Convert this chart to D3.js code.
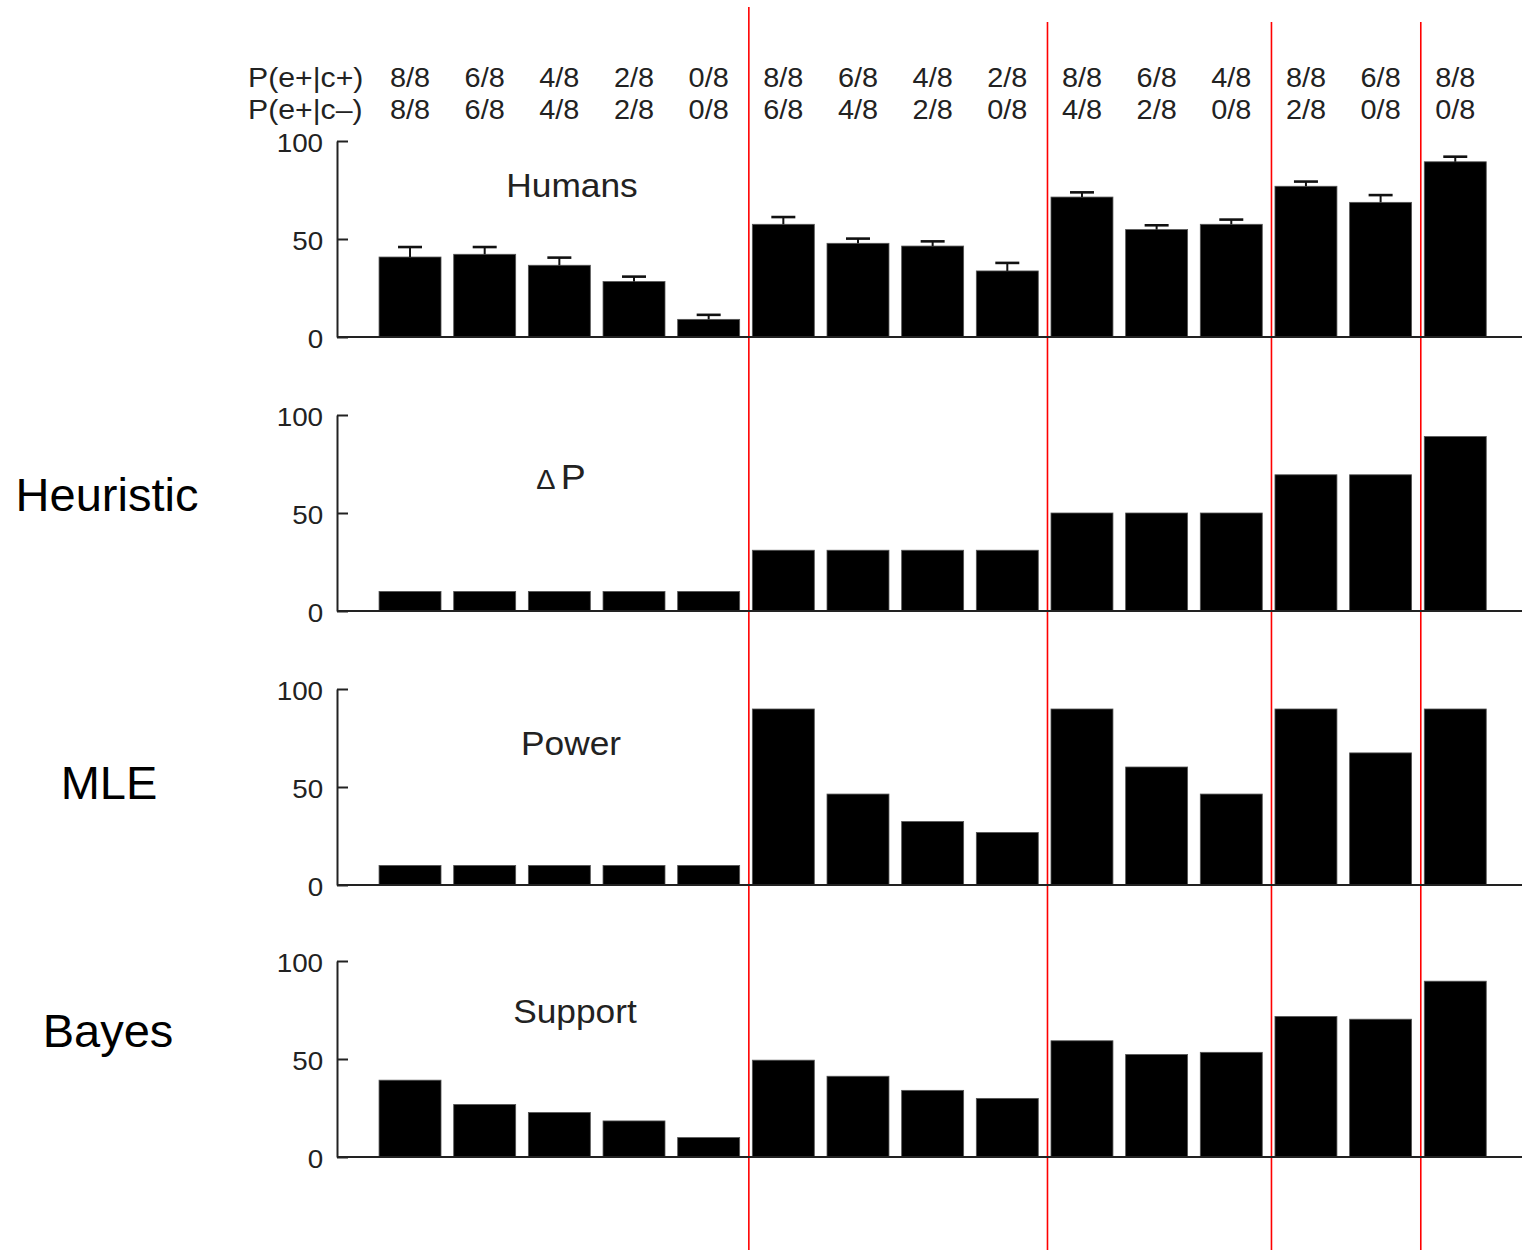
<!DOCTYPE html>
<html>
<head>
<meta charset="utf-8">
<script src="https://cdn.jsdelivr.net/npm/d3@7"></script>
<style>
  html, body { margin: 0; padding: 0; background: #fff; }
  svg { display: block; }
</style>
</head>
<body>
<div id="chart"></div>
<script>
// ---------------- data ----------------
const pEplusCplus  = ["8/8","6/8","4/8","2/8","0/8","8/8","6/8","4/8","2/8","8/8","6/8","4/8","8/8","6/8","8/8"];
const pEplusCminus = ["8/8","6/8","4/8","2/8","0/8","6/8","4/8","2/8","0/8","4/8","2/8","0/8","2/8","0/8","0/8"];
const yTicks = [0, 50, 100];

const humans    = [40.8, 42.2, 36.6, 28.3, 9.0, 57.5, 47.8, 46.4, 33.7, 71.4, 54.8, 57.5, 76.9, 68.7, 89.4];
const humansErr = [5.1, 3.7, 3.9, 2.5, 2.3, 3.7, 2.4, 2.4, 4.1, 2.4, 2.2, 2.4, 2.4, 3.7, 2.6];
const deltaP    = [10, 10, 10, 10, 10, 31, 31, 31, 31, 50, 50, 50, 69.5, 69.5, 89];
const power     = [10, 10, 10, 10, 10, 89.8, 46.4, 32.4, 26.8, 89.8, 60.2, 46.4, 89.8, 67.4, 89.8];
const support   = [39.2, 26.8, 22.7, 18.4, 9.9, 49.4, 41.2, 34.0, 29.9, 59.3, 52.3, 53.4, 71.7, 70.3, 89.7];

const panelTitles = ["Humans", "ΔP", "Power", "Support"];
const modelLabels = ["Heuristic", "MLE", "Bayes"];

// ---------------- layout ----------------
const W = 1522, H = 1250;
const axisX = 337;
const panelTop = [141, 415, 689, 961];
const panelH = 196;
const titlePos = [[572, 56], [561, 74], [571, 66], [575, 62]];
const modelPos = [[107, 511], [109, 799], [108, 1047]];
const FIG_FONT = "'Liberation Sans', Arial, Helvetica, sans-serif";
const stretch = 1.07;

const svg = d3.select("#chart").append("svg")
  .attr("width", W).attr("height", H)
  .style("background", "#fff");

const idx = d3.range(pEplusCplus.length);
const x = d3.scaleBand().domain(idx).range([372.7, 1492.6])
  .paddingInner(0.17).paddingOuter(0.085);

const panels = [
  { title: panelTitles[0], values: humans, err: humansErr },
  { title: panelTitles[1], values: deltaP, err: null },
  { title: panelTitles[2], values: power, err: null },
  { title: panelTitles[3], values: support, err: null }
];

// group boundaries: where P(e+|c+) - P(e+|c-) changes
const frac = s => +s.split("/")[0] / +s.split("/")[1];
const diffs = idx.map(i => frac(pEplusCplus[i]) - frac(pEplusCminus[i]));
const breaks = idx.filter(i => i > 0 && Math.abs(diffs[i] - diffs[i - 1]) > 1e-9);

// red separators (just before the first bar of each new group)
svg.append("g").selectAll("line").data(breaks).join("line")
  .attr("x1", d => x(d) - 3.5)
  .attr("x2", d => x(d) - 3.5)
  .attr("y1", (d, i) => i === 0 ? 7 : 22)
  .attr("y2", H)
  .attr("stroke", "#ff0000")
  .attr("stroke-width", 1.6);

// header rows
const header = svg.append("g").attr("fill", "#222")
  .style("font-family", FIG_FONT).style("font-size", "27px");
[[pEplusCplus, "P(e+|c+)", 87], [pEplusCminus, "P(e+|c\u2013)", 119]].forEach(([arr, lab, yb]) => {
  header.append("text")
    .attr("transform", `translate(248,${yb}) scale(1.12,1)`)
    .text(lab);
  header.selectAll(null).data(arr).join("text")
    .attr("text-anchor", "middle")
    .attr("transform", (d, i) => `translate(${x(i) + x.bandwidth() / 2},${yb}) scale(${stretch},1)`)
    .text(d => d);
});

// panels
panels.forEach((p, pi) => {
  const y = d3.scaleLinear().domain([0, 100]).range([panelTop[pi] + panelH, panelTop[pi]]);
  const g = svg.append("g");

  // bars
  g.selectAll("rect").data(p.values).join("rect")
    .attr("x", (d, i) => x(i))
    .attr("width", x.bandwidth())
    .attr("y", d => y(d))
    .attr("height", d => y(0) - y(d))
    .attr("fill", "#000")
    .attr("stroke", "#555")
    .attr("stroke-width", 0.8);

  // error bars
  if (p.err) {
    const eg = g.append("g").attr("stroke", "#111");
    eg.selectAll("line.v").data(p.values).join("line").attr("class", "v")
      .attr("x1", (d, i) => x(i) + x.bandwidth() / 2)
      .attr("x2", (d, i) => x(i) + x.bandwidth() / 2)
      .attr("y1", d => y(d))
      .attr("y2", (d, i) => y(d + p.err[i]))
      .attr("stroke-width", 2);
    eg.selectAll("line.c").data(p.values).join("line").attr("class", "c")
      .attr("x1", (d, i) => x(i) + x.bandwidth() / 2 - 12)
      .attr("x2", (d, i) => x(i) + x.bandwidth() / 2 + 12)
      .attr("y1", (d, i) => y(d + p.err[i]))
      .attr("y2", (d, i) => y(d + p.err[i]))
      .attr("stroke-width", 2.6);
  }

  // baseline
  g.append("line")
    .attr("x1", axisX).attr("x2", W)
    .attr("y1", y(0)).attr("y2", y(0))
    .attr("stroke", "#222").attr("stroke-width", 2);

  // y axis
  const ax = g.append("g").attr("transform", `translate(${axisX},0)`)
    .call(d3.axisLeft(y).tickValues(yTicks).tickSizeInner(-11).tickSizeOuter(0).tickPadding(13));
  ax.select(".domain").attr("stroke", "#222").attr("stroke-width", 2);
  ax.selectAll(".tick line").attr("stroke", "#222").attr("stroke-width", 2);
  ax.selectAll(".tick text")
    .attr("fill", "#222")
    .style("font-family", FIG_FONT).style("font-size", "26px")
    .attr("dy", "0.42em")
    .attr("transform", `scale(${stretch},1)`);

  // panel title
  const t = g.append("text")
    .attr("text-anchor", "middle")
    .attr("fill", "#222")
    .style("font-family", FIG_FONT)
    .attr("transform", `translate(${titlePos[pi][0]},${panelTop[pi] + titlePos[pi][1]}) scale(${stretch},1)`);
  if (p.title.startsWith("Δ")) {
    t.append("tspan").style("font-size", "27px").text("Δ");
    t.append("tspan").attr("dx", 5).style("font-size", "35px").text(p.title.slice(1));
  } else {
    t.style("font-size", "33px").text(p.title);
  }
});

// model labels at left
svg.append("g").selectAll("text").data(modelLabels).join("text")
  .attr("x", (d, i) => modelPos[i][0])
  .attr("y", (d, i) => modelPos[i][1])
  .attr("text-anchor", "middle")
  .attr("fill", "#000")
  .style("font-family", "'Liberation Sans', Arial, sans-serif")
  .style("font-size", "47px")
  .text(d => d);
</script>
</body>
</html>
